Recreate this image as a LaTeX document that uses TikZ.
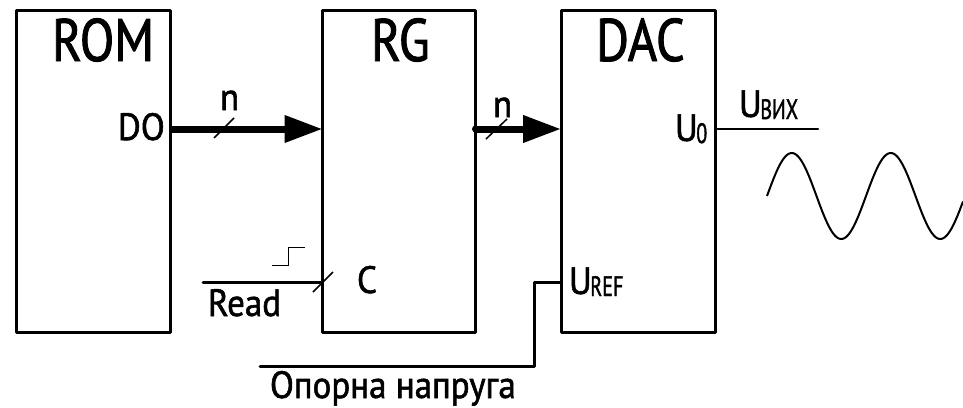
\documentclass[tikz,border=0pt]{standalone}
\usepackage{fontspec}
\usetikzlibrary{arrows.meta}
\setmainfont[FakeStretch=0.84,FakeBold=1.5]{PT Sans}
\newfontfamily\smallf[FakeStretch=0.92,FakeBold=1.5]{PT Sans}
\newcommand{\subtxt}[1]{\kern-1.5pt\raisebox{-2pt}{\scalebox{0.78}[1]{\fontsize{28}{28}\selectfont #1}}}
\tikzset{
  block/.style={draw,line width=3pt,line join=round,minimum width=#1,minimum height=322pt,inner sep=0pt,outer sep=0pt},
  wire/.style={line width=3pt,line join=round,line cap=round},
  bus/.style={line width=7pt,-{Triangle[length=38pt,width=26pt]}},
  tick/.style={line width=1.5pt},
  txt/.style={anchor=base west,inner sep=0pt,outer sep=0pt,font=\smallf\fontsize{38}{38}\selectfont},
  big/.style={anchor=base west,inner sep=0pt,outer sep=0pt,font=\fontsize{60}{60}\selectfont}
}
\begin{document}
\begin{tikzpicture}[x=1pt,y=-1pt]
\useasboundingbox (0,0) rectangle (963,407);
\node[block=153.5pt] (rom) at (93.25,171) {};
\node[block=153pt] (rg) at (399,171) {};
\node[block=154pt] (dac) at (638,171) {};
\coordinate (ya) at (0,129);
\coordinate (yb) at (0,282);
\coordinate (readstart) at (203,282);
\coordinate (refstart) at (260,366);
\coordinate (refbend) at (534,366);
\coordinate (outend) at (818,129);
\draw[bus] (rom.east |- ya) -- (rg.west |- ya);
\draw[bus] (rg.east |- ya) -- (dac.west |- ya);
\fill (rg.east |- ya) circle (3.5pt);
\draw[wire] (readstart) -- (rg.west |- yb);
\draw[wire] (refstart) -- (refbend) -- (refbend |- yb) -- (dac.west |- yb);
\draw[line width=2.5pt,line cap=round] (dac.east |- ya) -- (outend);
\draw[tick] (214,138) -- (234,118);
\draw[tick] (486,139) -- (507,119);
\draw[tick] (313,292) -- (333,272);
\draw[line width=1pt] (272,265) -- (288,265) -- (288,247) -- (305,247);
\draw[line width=2pt,domain=0:196,samples=120,smooth] plot ({767+\x},{196-43*sin(\x/99*360)});
\node[big] (tr) at (52,61) {ROM};
\node[big] (tg) at (371,61) {RG};
\node[big] (td) at (596,61) {DAC};
\node[txt] (tdo) at (118,140) {DO};
\node[txt] (tn1) at (220,110) {n};
\node[txt] (tn2) at (493,117) {n};
\node[txt] (tc) at (357,293) {C};
\node[txt] (tread) at (208,316) {Read};
\node[txt] (topora) at (270,398) {Опорна напруга};
\node[txt] (tu0) at (675,141) {U\subtxt{0}};
\node[txt] (tuv) at (739,117) {U\subtxt{ВИХ}};
\node[txt] (tur) at (569,294) {U\subtxt{REF}};
\end{tikzpicture}
\end{document}
